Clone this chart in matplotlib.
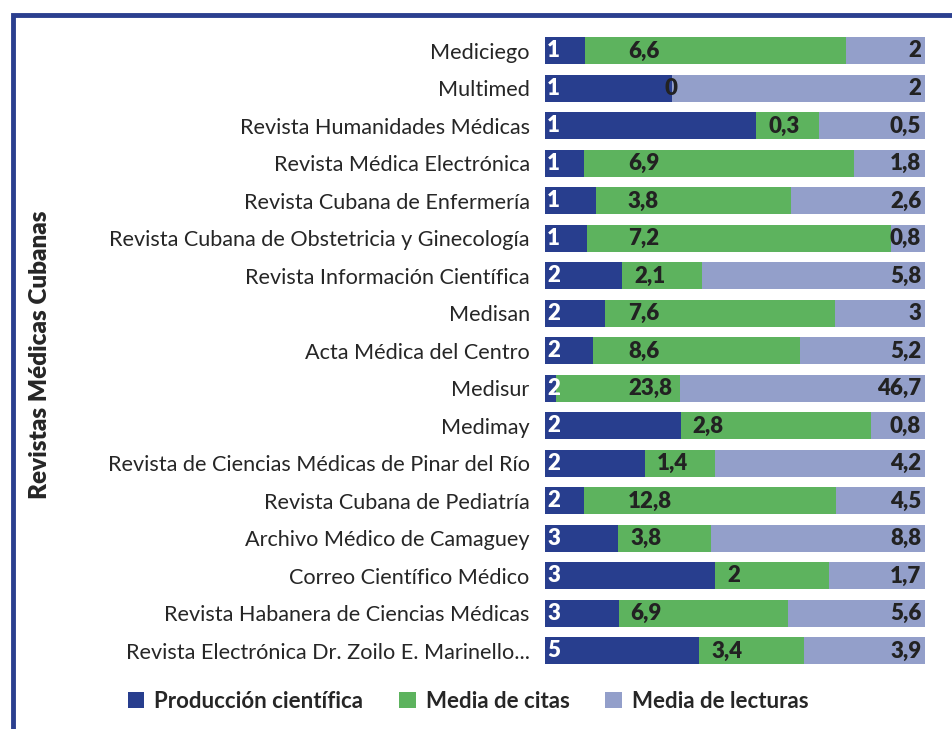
import matplotlib.pyplot as plt
import numpy as np
from matplotlib.patches import Rectangle

plt.rcParams['font.family'] = ['Lato', 'DejaVu Sans']

revistas = ['Mediciego', 'Multimed', 'Revista Humanidades Médicas',
            'Revista Médica Electrónica', 'Revista Cubana de Enfermería',
            'Revista Cubana de Obstetricia y Ginecología',
            'Revista Información Científica', 'Medisan', 'Acta Médica del Centro',
            'Medisur', 'Medimay', 'Revista de Ciencias Médicas de Pinar del Río',
            'Revista Cubana de Pediatría', 'Archivo Médico de Camaguey',
            'Correo Científico Médico', 'Revista Habanera de Ciencias Médicas',
            'Revista Electrónica Dr. Zoilo E. Marinello...']
produccion = [1, 1, 1, 1, 1, 1, 2, 2, 2, 2, 2, 2, 2, 3, 3, 3, 5]
citas = [6.6, 0, 0.3, 6.9, 3.8, 7.2, 2.1, 7.6, 8.6, 23.8, 2.8, 1.4, 12.8, 3.8, 2, 6.9, 3.4]
lecturas = [2, 2, 0.5, 1.8, 2.6, 0.8, 5.8, 3, 5.2, 46.7, 0.8, 4.2, 4.5, 8.8, 1.7, 5.6, 3.9]
series = ['Producción científica', 'Media de citas', 'Media de lecturas']
colores = ['#283e8e', '#5db35e', '#939fca']

def fmt(v):
    s = ('%g' % v).replace('.', ',')
    return s

datos = np.array([produccion, citas, lecturas], dtype=float)
tot = datos.sum(axis=0)
frac = datos / tot

fig = plt.figure(figsize=(9.52, 7.29), dpi=100)
ax = fig.add_axes([0.5725, 0.0813, 0.3991, 0.8745])
y = np.arange(len(revistas))
left = np.zeros(len(revistas))
for i in range(3):
    ax.barh(y, frac[i], left=left, height=0.72, color=colores[i],
            label=series[i], edgecolor='none')
    for j in range(len(revistas)):
        txt = fmt(datos[i, j])
        if i == 0:
            ax.text(0.006, y[j], txt, color='white', fontsize=16, fontweight='heavy',
                    ha='left', va='center')
        elif i == 1:
            xs = max(0.2184, left[j] + 0.032)
            if datos[i, j] == 0:
                xs = left[j] - 0.02
            ax.text(xs, y[j], txt, color='#222222', fontsize=16, fontweight='heavy',
                    ha='left', va='center')
        else:
            ax.text(0.99, y[j], txt, color='#222222', fontsize=16, fontweight='heavy',
                    ha='right', va='center')
    left = left + frac[i]

ax.set_xlim(0, 1)
ax.set_ylim(len(revistas) - 0.5, -0.5)
ax.set_yticks(y)
ax.set_yticklabels(revistas, fontsize=15.6, color='#262626')
ax.tick_params(axis='y', length=0, pad=11)
ax.set_xticks([])
for s in ax.spines.values():
    s.set_visible(False)

fig.text(0.042, 0.513, 'Revistas Médicas Cubanas', rotation=90, fontsize=17.5,
         fontweight='heavy', color='#262626', ha='center', va='center')

leg = fig.legend(loc='center', bbox_to_anchor=(0.4916, 0.038), ncol=3, frameon=False,
                 prop={'weight': 'bold', 'size': 16}, handlelength=0.75, handleheight=0.75,
                 handletextpad=0.45, columnspacing=1.6)
for t in leg.get_texts():
    t.set_color('#262626')

# marco azul (solo arriba e izquierda visibles)
fig.add_artist(Rectangle((12.5 / 952, -0.1), 1.2, 1 - 15 / 729 + 0.1,
                         transform=fig.transFigure, fill=False,
                         edgecolor='#2b3f8f', linewidth=3.5))

fig.savefig('out.png', dpi=100)
